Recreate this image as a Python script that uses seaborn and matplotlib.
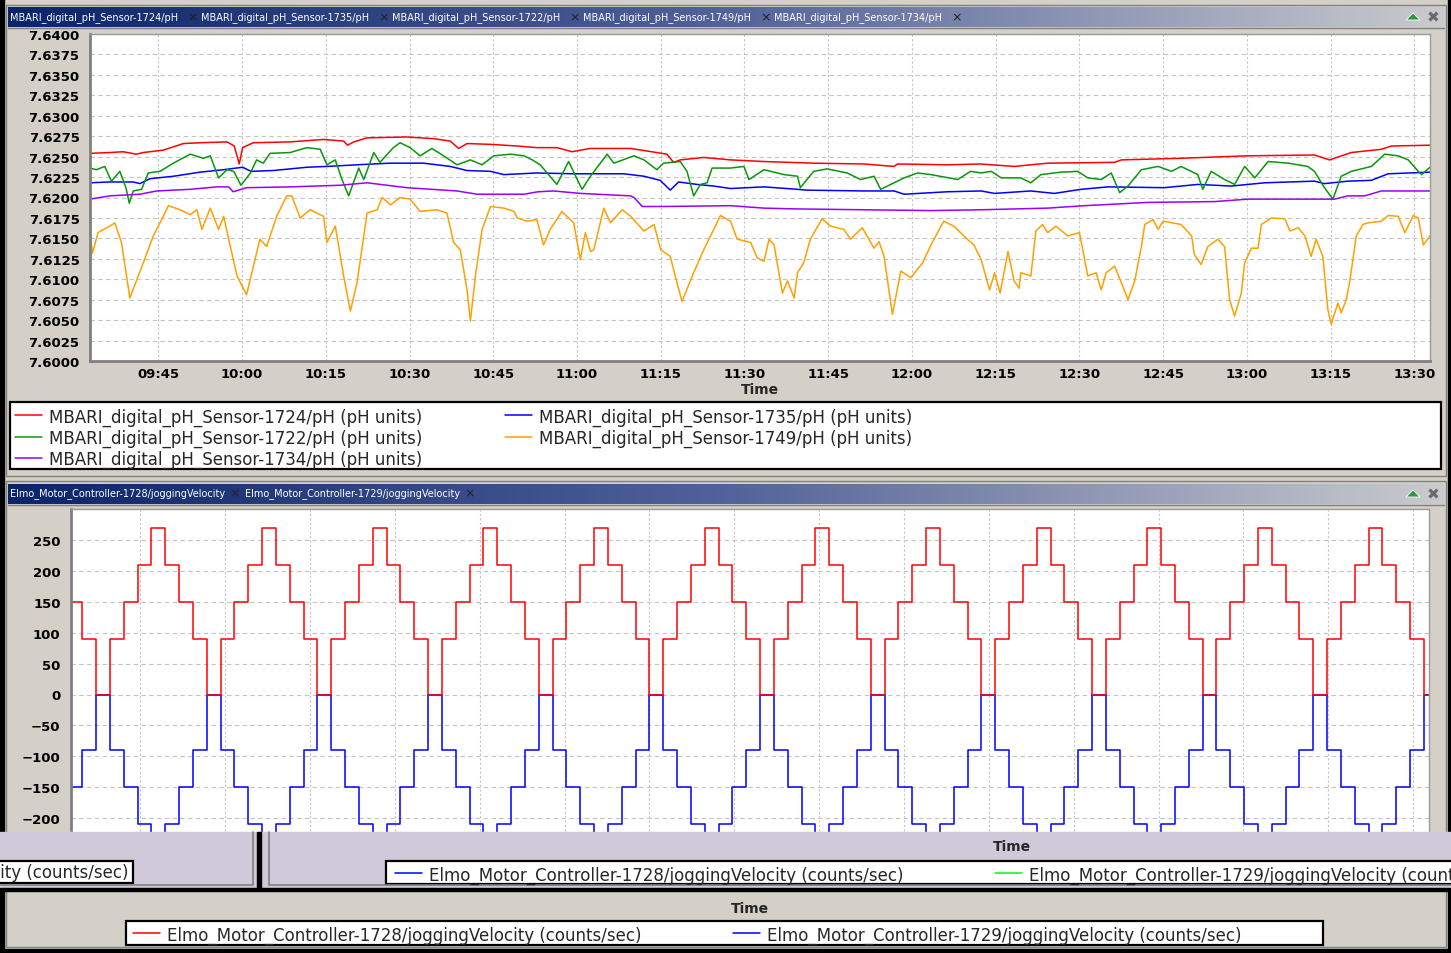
import numpy as np
import pandas as pd
import matplotlib
matplotlib.use("Agg")
import matplotlib.pyplot as plt
import matplotlib.dates as mdates
from matplotlib.lines import Line2D
from matplotlib.patches import Rectangle, Polygon
from matplotlib.colors import LinearSegmentedColormap
import seaborn as sns

W, H = 1451, 954

# ---- pH sensors, minutes after 09:30 ----
ph_1724_t = [2.75, 6.3, 8.7, 11.1, 12.3, 15.9, 19.5, 22.5, 27.3, 28.6,
             29.5, 30.1, 32.0, 38.6, 44.6, 48.2, 48.9, 50.0, 52.4, 59.5,
             64.3, 67.3, 68.8, 70.3, 74.5, 79.3, 82.8, 86.4, 89.1, 92.4,
             99.6, 104.3, 106.1, 107.3, 108.5, 112.7, 117.5, 123.5, 132.4, 141.4,
             146.8, 147.4, 156.3, 162.3, 168.3, 174.3, 186.3, 187.5, 198.2, 210.2,
             222.1, 224.8, 228.7, 234.1, 235.9, 242.8]
ph_1724 = [7.6254, 7.6255, 7.6256, 7.6253, 7.6255, 7.6258, 7.6266, 7.6267, 7.6268, 7.6263,
           7.6241, 7.6261, 7.6267, 7.6268, 7.6271, 7.6269, 7.6264, 7.6268, 7.6273, 7.6274,
           7.6272, 7.6269, 7.6260, 7.6266, 7.6265, 7.6263, 7.6261, 7.6261, 7.6256, 7.6260,
           7.6260, 7.6255, 7.6253, 7.6243, 7.6246, 7.6249, 7.6246, 7.6244, 7.6242, 7.6241,
           7.6238, 7.6241, 7.6240, 7.6241, 7.6238, 7.6242, 7.6243, 7.6246, 7.6248, 7.6251,
           7.6252, 7.6246, 7.6255, 7.6259, 7.6263, 7.6264]

ph_1735_t = [2.75, 6.3, 10.5, 11.7, 13.5, 17.7, 22.5, 26.7, 30.1, 31.6,
             35.6, 41.6, 45.2, 50.6, 56.5, 62.5, 67.3, 70.3, 74.5, 76.9,
             82.8, 89.4, 98.4, 102.0, 104.9, 106.7, 108.2, 111.5, 114.5, 117.5,
             123.5, 129.5, 131.2, 141.4, 146.8, 148.6, 156.3, 162.4, 164.8, 171.3,
             175.5, 180.3, 185.1, 195.2, 201.2, 207.2, 213.2, 222.1, 223.9, 228.1,
             232.3, 235.3, 242.8]
ph_1735 = [7.6218, 7.6219, 7.6219, 7.6217, 7.6223, 7.6226, 7.6231, 7.6234, 7.6237, 7.6232,
           7.6233, 7.6237, 7.6238, 7.6240, 7.6242, 7.6242, 7.6238, 7.6233, 7.6232, 7.6228,
           7.6230, 7.6229, 7.6229, 7.6226, 7.6221, 7.6209, 7.6219, 7.6216, 7.6214, 7.6211,
           7.6213, 7.6210, 7.6209, 7.6208, 7.6208, 7.6204, 7.6207, 7.6208, 7.6205, 7.6208,
           7.6205, 7.6210, 7.6213, 7.6212, 7.6216, 7.6214, 7.6218, 7.6220, 7.6217, 7.6220,
           7.6221, 7.6229, 7.6231]

ph_1722_t = [2.75, 3.9, 5.4, 6.6, 8.1, 9.2, 9.8, 10.5, 12.0, 13.2,
             15.3, 17.7, 20.7, 23.1, 24.3, 25.8, 27.3, 28.5, 29.8, 31.5,
             32.6, 33.8, 35.0, 38.6, 41.6, 44.0, 45.2, 46.7, 47.9, 49.1,
             50.9, 51.8, 53.6, 54.7, 57.1, 58.3, 60.1, 61.9, 64.0, 66.1,
             68.5, 70.9, 73.0, 75.1, 78.1, 80.5, 82.0, 83.4, 86.4, 88.5,
             90.9, 92.4, 95.4, 96.6, 100.2, 102.0, 104.3, 105.5, 108.5, 109.7,
             110.9, 112.1, 113.3, 114.2, 117.5, 119.9, 120.8, 123.5, 127.1, 129.5,
             130.0, 132.4, 134.8, 138.4, 140.8, 143.2, 144.4, 146.2, 148.6, 151.0,
             153.4, 158.2, 160.5, 162.4, 164.2, 166.0, 169.5, 171.3, 173.1, 176.7,
             179.7, 181.5, 183.9, 185.7, 187.2, 188.7, 191.1, 194.1, 196.5, 198.2,
             201.2, 202.1, 203.6, 206.0, 207.8, 209.6, 211.4, 213.8, 217.4, 220.9,
             222.1, 223.9, 225.4, 226.9, 228.7, 232.3, 234.7, 237.1, 238.9, 240.7,
             241.3, 242.8]
ph_1722 = [7.6236, 7.6234, 7.6238, 7.6220, 7.6232, 7.6212, 7.6193, 7.6208, 7.6210, 7.6230,
           7.6232, 7.6242, 7.6253, 7.6248, 7.6251, 7.6224, 7.6234, 7.6232, 7.6215, 7.6230,
           7.6246, 7.6242, 7.6254, 7.6255, 7.6261, 7.6259, 7.6240, 7.6246, 7.6222, 7.6202,
           7.6236, 7.6222, 7.6255, 7.6243, 7.6261, 7.6267, 7.6261, 7.6251, 7.6260, 7.6251,
           7.6240, 7.6246, 7.6240, 7.6251, 7.6253, 7.6251, 7.6246, 7.6240, 7.6216, 7.6244,
           7.6210, 7.6226, 7.6253, 7.6242, 7.6251, 7.6246, 7.6234, 7.6242, 7.6244, 7.6232,
           7.6202, 7.6216, 7.6218, 7.6236, 7.6236, 7.6238, 7.6222, 7.6234, 7.6228, 7.6226,
           7.6212, 7.6232, 7.6235, 7.6230, 7.6222, 7.6226, 7.6210, 7.6216, 7.6224, 7.6230,
           7.6228, 7.6222, 7.6232, 7.6230, 7.6232, 7.6224, 7.6224, 7.6218, 7.6228, 7.6231,
           7.6232, 7.6224, 7.6222, 7.6230, 7.6206, 7.6214, 7.6234, 7.6238, 7.6232, 7.6238,
           7.6228, 7.6210, 7.6232, 7.6222, 7.6216, 7.6238, 7.6224, 7.6244, 7.6242, 7.6238,
           7.6232, 7.6212, 7.6198, 7.6226, 7.6232, 7.6238, 7.6253, 7.6251, 7.6246, 7.6232,
           7.6228, 7.6237]

ph_1749_t = [2.75, 3.2, 4.2, 6.3, 7.2, 8.4, 9.9, 12.3, 14.1, 15.6,
             16.8, 18.9, 20.7, 21.9, 22.8, 24.3, 25.8, 26.7, 27.9, 29.1,
             30.8, 33.2, 34.4, 36.2, 38.0, 38.9, 40.4, 42.2, 44.6, 45.2,
             46.7, 48.2, 49.4, 50.6, 52.4, 54.2, 55.1, 56.6, 58.3, 60.1,
             61.9, 64.9, 66.7, 67.9, 69.1, 70.3, 70.9, 71.8, 73.0, 74.5,
             76.9, 78.7, 79.3, 81.1, 82.8, 84.0, 85.2, 87.3, 89.4, 90.6,
             91.5, 92.4, 93.0, 94.8, 96.0, 98.1, 99.6, 102.0, 103.8, 105.0,
             106.7, 107.9, 108.8, 110.9, 112.7, 114.5, 115.7, 117.5, 118.7, 121.1,
             122.3, 123.5, 124.4, 125.3, 126.8, 127.7, 128.9, 129.5, 130.6, 131.8,
             133.9, 135.4, 137.8, 139.0, 141.1, 143.2, 144.1, 145.0, 146.5, 148.0,
             149.8, 151.9, 153.4, 155.7, 157.5, 159.9, 161.1, 162.4, 163.9, 164.8,
             165.8, 167.2, 168.3, 169.2, 169.5, 171.3, 172.2, 173.4, 174.3, 175.8,
             177.9, 180.0, 181.5, 183.0, 183.9, 184.8, 186.3, 187.5, 188.7, 189.9,
             191.1, 191.7, 193.2, 194.1, 195.0, 198.2, 200.1, 200.6, 201.8, 203.0,
             204.8, 206.0, 206.9, 207.8, 209.0, 209.6, 210.8, 212.0, 212.6, 214.4,
             216.8, 217.7, 219.2, 220.4, 221.5, 222.4, 223.6, 224.5, 225.1, 226.3,
             226.9, 227.8, 228.4, 229.6, 230.8, 231.7, 234.1, 235.3, 237.1, 238.3,
             239.8, 240.7, 241.6, 242.8]
ph_1749 = [7.6157, 7.6132, 7.6157, 7.6165, 7.6169, 7.6145, 7.6077, 7.6120, 7.6153, 7.6173,
           7.6190, 7.6185, 7.6179, 7.6185, 7.6161, 7.6187, 7.6161, 7.6177, 7.6140, 7.6104,
           7.6081, 7.6149, 7.6140, 7.6177, 7.6202, 7.6202, 7.6175, 7.6185, 7.6177, 7.6145,
           7.6165, 7.6104, 7.6061, 7.6096, 7.6181, 7.6185, 7.6200, 7.6191, 7.6200, 7.6198,
           7.6183, 7.6185, 7.6181, 7.6145, 7.6136, 7.6087, 7.6049, 7.6104, 7.6161, 7.6189,
           7.6187, 7.6183, 7.6175, 7.6171, 7.6173, 7.6142, 7.6161, 7.6183, 7.6169, 7.6124,
           7.6157, 7.6134, 7.6136, 7.6187, 7.6169, 7.6185, 7.6177, 7.6159, 7.6167, 7.6136,
           7.6128, 7.6096, 7.6073, 7.6108, 7.6136, 7.6161, 7.6178, 7.6171, 7.6149, 7.6145,
           7.6126, 7.6122, 7.6149, 7.6142, 7.6083, 7.6098, 7.6077, 7.6108, 7.6120, 7.6149,
           7.6174, 7.6165, 7.6161, 7.6149, 7.6163, 7.6138, 7.6146, 7.6128, 7.6057, 7.6110,
           7.6102, 7.6120, 7.6142, 7.6171, 7.6165, 7.6149, 7.6142, 7.6124, 7.6087, 7.6108,
           7.6083, 7.6134, 7.6098, 7.6089, 7.6108, 7.6104, 7.6159, 7.6167, 7.6157, 7.6165,
           7.6153, 7.6157, 7.6104, 7.6108, 7.6087, 7.6108, 7.6116, 7.6096, 7.6075, 7.6098,
           7.6140, 7.6167, 7.6173, 7.6161, 7.6171, 7.6167, 7.6153, 7.6130, 7.6118, 7.6140,
           7.6149, 7.6140, 7.6075, 7.6055, 7.6083, 7.6120, 7.6138, 7.6138, 7.6167, 7.6175,
           7.6174, 7.6159, 7.6163, 7.6153, 7.6128, 7.6149, 7.6128, 7.6063, 7.6045, 7.6071,
           7.6059, 7.6075, 7.6096, 7.6153, 7.6167, 7.6169, 7.6171, 7.6178, 7.6177, 7.6157,
           7.6178, 7.6175, 7.6142, 7.6153]

ph_1734_t = [2.75, 6.3, 11.7, 14.7, 20.7, 25.5, 27.6, 28.4, 30.8, 38.6,
             47.6, 52.4, 59.5, 68.5, 72.1, 80.5, 83.0, 85.8, 90.6, 99.6,
             100.2, 101.7, 105.5, 117.5, 123.5, 129.5, 141.4, 153.4, 162.4, 174.3,
             180.9, 192.3, 204.2, 210.2, 222.1, 225.7, 228.1, 231.1, 234.1, 242.8]
ph_1734 = [7.6198, 7.6202, 7.6204, 7.6208, 7.6210, 7.6213, 7.6213, 7.6207, 7.6212, 7.6213,
           7.6215, 7.6218, 7.6212, 7.6208, 7.6204, 7.6204, 7.6207, 7.6208, 7.6205, 7.6202,
           7.6200, 7.6189, 7.6189, 7.6190, 7.6187, 7.6186, 7.6185, 7.6184, 7.6185, 7.6187,
           7.6190, 7.6194, 7.6195, 7.6198, 7.6198, 7.6198, 7.6202, 7.6202, 7.6208, 7.6208]

ph_names = ["MBARI_digital_pH_Sensor-1724/pH", "MBARI_digital_pH_Sensor-1735/pH",
            "MBARI_digital_pH_Sensor-1722/pH", "MBARI_digital_pH_Sensor-1749/pH",
            "MBARI_digital_pH_Sensor-1734/pH"]
ph_colors = ["#ff0000", "#0000ff", "#0a960a", "#ffa000", "#9a00ff"]

# ---- motor jogging velocity, sampled every jog_step minutes ----
jog_start, jog_step = 1.08, 2.445
jog_1728 = [210, 150, 90, 0, 90, 150, 210, 270,
            210, 150, 90, 0, 90, 150, 210, 270,
            210, 150, 90, 0, 90, 150, 210, 270,
            210, 150, 90, 0, 90, 150, 210, 270,
            210, 150, 90, 0, 90, 150, 210, 270,
            210, 150, 90, 0, 90, 150, 210, 270,
            210, 150, 90, 0, 90, 150, 210, 270,
            210, 150, 90, 0, 90, 150, 210, 270,
            210, 150, 90, 0, 90, 150, 210, 270,
            210, 150, 90, 0, 90, 150, 210, 270,
            210, 150, 90, 0, 90, 150, 210, 270,
            210, 150, 90, 0, 90, 150, 210, 270,
            210, 150, 90, 0]
jog_1729 = [-210, -150, -90, 0, -90, -150, -210, -270,
            -210, -150, -90, 0, -90, -150, -210, -270,
            -210, -150, -90, 0, -90, -150, -210, -270,
            -210, -150, -90, 0, -90, -150, -210, -270,
            -210, -150, -90, 0, -90, -150, -210, -270,
            -210, -150, -90, 0, -90, -150, -210, -270,
            -210, -150, -90, 0, -90, -150, -210, -270,
            -210, -150, -90, 0, -90, -150, -210, -270,
            -210, -150, -90, 0, -90, -150, -210, -270,
            -210, -150, -90, 0, -90, -150, -210, -270,
            -210, -150, -90, 0, -90, -150, -210, -270,
            -210, -150, -90, 0, -90, -150, -210, -270,
            -210, -150, -90, 0]
jog_names = ["Elmo_Motor_Controller-1728/joggingVelocity",
             "Elmo_Motor_Controller-1729/joggingVelocity"]
jog_colors = ["#ff0000", "#0000ff"]

base = pd.Timestamp("2010-06-01 09:30:00")
t_lo, t_hi = 2.76, 242.8


def px(x0, y0, x1, y1):
    # pixel box (top-left origin) -> figure rect
    return [x0 / W, 1 - y1 / H, (x1 - x0) / W, (y1 - y0) / H]


def to_time(mins):
    return base + pd.to_timedelta(np.asarray(mins), unit="min")


ph_df = pd.concat([
    pd.DataFrame({"time": to_time(t), "value": v, "series": n})
    for t, v, n in zip([ph_1724_t, ph_1735_t, ph_1722_t, ph_1749_t, ph_1734_t],
                       [ph_1724, ph_1735, ph_1722, ph_1749, ph_1734], ph_names)
])
jog_t = jog_start + jog_step * np.arange(len(jog_1728))
jog_df = pd.concat([
    pd.DataFrame({"time": to_time(jog_t), "value": v, "series": n})
    for v, n in zip([jog_1729, jog_1728], jog_names[::-1])
])

sns.set_style("white")
plt.rcParams["font.family"] = ["DejaVu Sans"]

fig = plt.figure(figsize=(W / 100, H / 100), dpi=100, facecolor="#d4d0c8")

# ---- window chrome ----
bg = fig.add_axes([0, 0, 1, 1], zorder=0)
tab_cmap = LinearSegmentedColormap.from_list("tab", ["#0a246a", "#52629a", "#cacace"])
grad = np.linspace(0, 1, 256)[None, :]
for ytop in (8, 485):
    bg.imshow(grad, cmap=tab_cmap, extent=(8, 1444, ytop + 20, ytop), aspect="auto")
    bg.plot([8, 1444], [ytop + 20.5, ytop + 20.5], color="#808080", lw=1)
    bg.add_patch(Polygon([(1406, ytop + 13), (1413, ytop + 6), (1420, ytop + 13)],
                         closed=True, fc="#2a9a3a", ec="white", lw=0.6))
    bg.text(1433, ytop + 9.5, "\u2716", color="#6a6a6a", fontsize=11, ha="center", va="center")
bg.add_patch(Rectangle((0, 0), 4, H, color="black"))
bg.add_patch(Rectangle((1448, 0), 3, H, color="black"))
bg.add_patch(Rectangle((0, 950), W, 4, color="black"))
bg.add_patch(Rectangle((6, 6), 1440, 471, fill=False, ec="#808080", lw=1))
bg.add_patch(Rectangle((6, 482), 1440, 466, fill=False, ec="#808080", lw=1))
bg.add_patch(Rectangle((10, 403), 1431, 67, fc="white", ec="black", lw=1.6))
bg.add_patch(Rectangle((126, 922), 1197, 24, fc="white", ec="black", lw=1.6))
for i, name in enumerate(ph_names):
    bg.text(10 + 191 * i, 18, name, color="white", fontsize=7, va="center")
    bg.text(187 + 191 * i, 18, "\u00d7", color="#202020", fontsize=9, va="center")
for i, name in enumerate(jog_names):
    bg.text(10 + 235 * i, 494, name, color="white", fontsize=7, va="center")
    bg.text(229 + 235 * i, 494, "\u00d7", color="#202020", fontsize=9, va="center")
bg.set_xlim(0, W)
bg.set_ylim(H, 0)
bg.axis("off")


def style_axes(ax):
    ax.set_facecolor("white")
    for side in ("left", "bottom"):
        ax.spines[side].set_color("#808080")
        ax.spines[side].set_linewidth(2)
    for side in ("top", "right"):
        ax.spines[side].set_color("#9a9a9a")
        ax.spines[side].set_linewidth(1)
    ax.grid(axis="y", color="#c4c4c4", linestyle=(0, (4, 3)), linewidth=0.8)
    ax.grid(axis="x", color="#c4c4c4", linestyle=(0, (2, 2)), linewidth=0.8)
    ax.tick_params(length=3, width=1, color="#808080", labelsize=9.5, labelcolor="black")
    ax.tick_params(axis="y", pad=4.5)
    ax.tick_params(axis="x", pad=1)
    ax.set_xlim(to_time(t_lo), to_time(t_hi))
    ax.xaxis.set_major_locator(mdates.MinuteLocator(byminute=[0, 15, 30, 45]))
    ax.xaxis.set_major_formatter(mdates.DateFormatter("%H:%M"))
    ax.set_ylabel("")


# ---- pH panel ----
ax1 = fig.add_axes(px(90, 35, 1430, 362), zorder=1)
sns.lineplot(data=ph_df, x="time", y="value", hue="series", hue_order=ph_names,
             palette=ph_colors, estimator=None, sort=False, legend=False,
             linewidth=1.1, ax=ax1)
style_axes(ax1)
ax1.set_ylim(7.6, 7.64)
ax1.set_yticks(np.arange(7.6, 7.64001, 0.0025))
ax1.yaxis.set_major_formatter(plt.FormatStrFormatter("%.4f"))
ax1.set_xlabel("Time", fontsize=10, fontweight="bold", labelpad=1.5)
plt.setp(ax1.get_xticklabels() + ax1.get_yticklabels(), fontweight="bold")

# ---- jogging velocity panel ----
ax2 = fig.add_axes(px(71, 510, 1429, 881), zorder=1)
sns.lineplot(data=jog_df, x="time", y="value", hue="series", hue_order=jog_names[::-1],
             palette=jog_colors[::-1], estimator=None, sort=False, legend=False,
             linewidth=1.1, drawstyle="steps-mid", ax=ax2)
style_axes(ax2)
ax2.set_ylim(-300, 300)
ax2.set_yticks(np.arange(-250, 300, 50))
ax2.tick_params(axis="x", labelbottom=False)
ax2.set_xlabel("Time", fontsize=10, fontweight="bold", labelpad=15)
plt.setp(ax2.get_yticklabels(), fontweight="bold")

# ---- leftover repaint strip over the lower plot ----
ov = fig.add_axes([0, 0, 1, 1], zorder=2)
ov.add_patch(Rectangle((0, 833), W, 57, color="#cfc9d9"))
ov.plot([253, 253, 0], [833, 886, 886], color="#808080", lw=1.2)
ov.plot([268.5, 268.5, W], [833, 886, 886], color="#808080", lw=1.2)
ov.add_patch(Rectangle((257, 833), 4, 58, color="black"))
ov.add_patch(Rectangle((0, 889), W, 3, color="black"))
ov.add_patch(Rectangle((-20, 862), 153, 22, fc="white", ec="black", lw=1.6))
ov.add_patch(Rectangle((386, 862), 1100, 23, fc="white", ec="black", lw=1.6))
ov.text(1012, 847, "Time", fontsize=10, fontweight="bold", ha="center", va="center")
ov.text(128, 873, jog_names[1] + " (counts/sec)", fontsize=12, ha="right", va="center")
ov.set_xlim(0, W)
ov.set_ylim(H, 0)
ov.axis("off")

# ---- legends ----
FS = 12
fs_px = FS * 100 / 72


def entry_legend(colors, labels, x, row_y):
    handles = [Line2D([], [], color=c, lw=1.1) for c in colors]
    fig.legend(handles, labels, loc="upper left",
               bbox_to_anchor=(x / W, 1 - (row_y - 7.7) / H),
               frameon=False, borderpad=0, borderaxespad=0, fontsize=FS,
               handlelength=27 / fs_px, handletextpad=7 / fs_px, labelspacing=0.19)


ph_labels = [n + " (pH units)" for n in ph_names]
entry_legend([ph_colors[0], ph_colors[2], ph_colors[4]],
             [ph_labels[0], ph_labels[2], ph_labels[4]], 15, 416)
entry_legend([ph_colors[1], ph_colors[3]], [ph_labels[1], ph_labels[3]], 505, 416)

jog_labels = [n + " (counts/sec)" for n in jog_names]
entry_legend([jog_colors[0]], [jog_labels[0]], 133, 934)
entry_legend([jog_colors[1]], [jog_labels[1]], 733, 934)
entry_legend(["#0000ff"], [jog_labels[0]], 395, 874)
entry_legend(["#00ff00"], [jog_labels[1]], 995, 874)

fig.savefig("out.png", dpi=100, facecolor=fig.get_facecolor())
